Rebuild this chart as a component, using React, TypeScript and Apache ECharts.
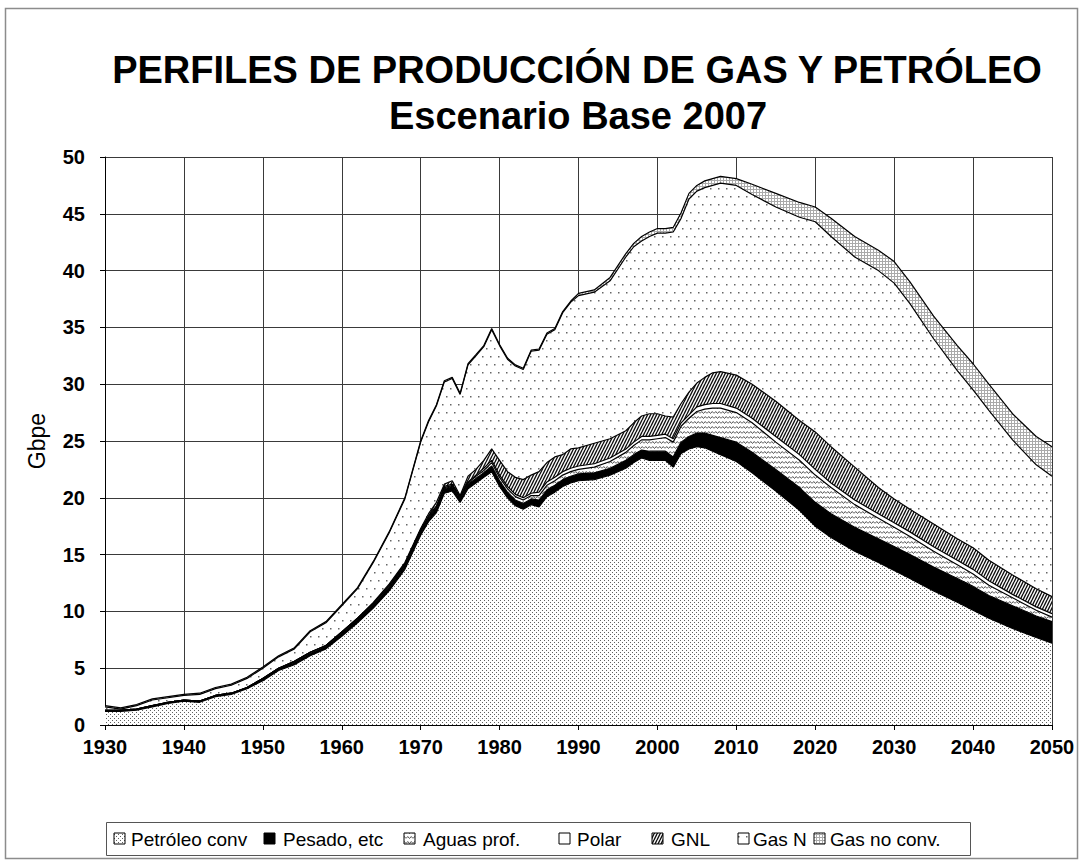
import React, { useEffect, useRef } from 'react';
import * as echarts from 'echarts';

const FONT = '"Liberation Sans", Arial, Helvetica, sans-serif';

const years = [
  1930, 1932, 1934, 1936, 1938, 1940, 1942, 1944, 1946, 1948, 1950, 1952, 1954, 1956, 1958, 1960, 1962, 1964, 1966, 1968,
  1970, 1971, 1972, 1973, 1974, 1975, 1976, 1977, 1978, 1979, 1980, 1981, 1982, 1983, 1984, 1985, 1986, 1987, 1988, 1989, 1990,
  1992, 1994, 1996,
  1997, 1998, 1999, 2000, 2001, 2002, 2003, 2004, 2005, 2006, 2007, 2008,
  2010,
  2012, 2015, 2018, 2020, 2022, 2025, 2028, 2030, 2032, 2035, 2038, 2040, 2042, 2045, 2048, 2050,
];

const petroleoConv = [
  1.2, 1.2, 1.3, 1.6, 1.9, 2.1, 2.0, 2.5, 2.7, 3.2, 3.9, 4.8, 5.3, 6.1, 6.7, 7.8, 9.0, 10.3, 11.8, 13.7,
  16.7, 17.9, 18.7, 20.4, 20.6, 19.6, 20.8, 21.3, 21.8, 22.3, 21.0, 20.0, 19.3, 19.0, 19.4, 19.2, 20.1, 20.5, 21.0, 21.3, 21.5,
  21.6, 22.0, 22.6,
  23.1, 23.5, 23.3, 23.3, 23.3, 22.7, 23.9, 24.3, 24.5, 24.4, 24.1, 23.8,
  23.2,
  22.2, 20.6, 18.9, 17.5, 16.5, 15.3, 14.3, 13.6, 12.9, 11.8, 10.8, 10.1, 9.4, 8.5, 7.7, 7.2,
];

const pesado = [
  0.1, 0.1, 0.1, 0.1, 0.1, 0.1, 0.1, 0.1, 0.1, 0.1, 0.2, 0.2, 0.2, 0.2, 0.2, 0.3, 0.3, 0.3, 0.3, 0.3,
  0.3, 0.3, 0.4, 0.4, 0.4, 0.3, 0.4, 0.4, 0.4, 0.5, 0.5, 0.5, 0.5, 0.5, 0.5, 0.6, 0.6, 0.6, 0.6, 0.6, 0.6,
  0.6, 0.6, 0.7,
  0.7, 0.7, 0.8, 0.8, 0.8, 0.9, 1.0, 1.1, 1.2, 1.3, 1.4, 1.5,
  1.7,
  1.8, 1.9, 2.0, 2.1, 2.1, 2.1, 2.1, 2.1, 2.1, 2.1, 2.1, 2.1, 2.0, 2.0, 1.9, 1.9,
];

const aguasProf = [
  0, 0, 0, 0, 0, 0, 0, 0, 0, 0, 0, 0, 0.1, 0.1, 0.1, 0.1, 0.1, 0.1, 0.1, 0.1,
  0.1, 0.1, 0.1, 0.1, 0.1, 0.1, 0.1, 0.2, 0.2, 0.3, 0.3, 0.3, 0.3, 0.3, 0.3, 0.4, 0.4, 0.4, 0.4, 0.4, 0.4,
  0.5, 0.6, 0.7,
  0.8, 0.9, 1.0, 1.1, 1.2, 1.3, 1.4, 1.6, 1.9, 2.1, 2.4, 2.6,
  2.6,
  2.6, 2.4, 2.4, 2.4, 2.3, 2.0, 1.8, 1.7, 1.6, 1.4, 1.2, 1.1, 0.9, 0.7, 0.5, 0.4,
];

const polar = [
  0, 0, 0, 0, 0, 0, 0, 0, 0, 0, 0, 0, 0, 0, 0, 0, 0, 0, 0.1, 0.1,
  0.1, 0.1, 0.1, 0.1, 0.1, 0.1, 0.1, 0.1, 0.2, 0.2, 0.2, 0.2, 0.2, 0.2, 0.2, 0.3, 0.3, 0.3, 0.3, 0.3, 0.3,
  0.3, 0.3, 0.3,
  0.3, 0.3, 0.3, 0.3, 0.3, 0.3, 0.3, 0.3, 0.4, 0.4, 0.4, 0.4,
  0.4,
  0.4, 0.5, 0.5, 0.5, 0.4, 0.4, 0.4, 0.4, 0.4, 0.4, 0.4, 0.4, 0.4, 0.3, 0.3, 0.3,
];

const gnl = [
  0, 0, 0, 0, 0, 0, 0, 0, 0, 0, 0, 0, 0, 0, 0, 0, 0, 0.1, 0.1, 0.1,
  0.1, 0.2, 0.3, 0.2, 0.3, 0.1, 0.5, 0.5, 0.7, 1.0, 1.3, 1.3, 1.5, 1.6, 1.6, 1.8, 1.7, 1.8, 1.5, 1.7, 1.6,
  1.8, 1.7, 1.6,
  1.7, 1.8, 2.0, 1.9, 1.6, 1.9, 1.7, 2.0, 2.1, 2.4, 2.7, 2.8,
  2.9,
  3.0, 3.1, 3.0, 3.3, 3.2, 2.9, 2.3, 2.1, 2.0, 2.0, 1.9, 1.9, 1.8, 1.7, 1.6, 1.5,
];

const gasN = [
  0.3, 0.1, 0.3, 0.5, 0.4, 0.4, 0.6, 0.6, 0.7, 0.8, 0.9, 1.0, 1.1, 1.8, 2.0, 2.3, 2.6, 3.5, 4.5, 5.6,
  7.6, 8.1, 8.5, 9.0, 9.0, 8.9, 9.8, 10.0, 10.0, 10.5, 10.1, 9.9, 9.8, 9.7, 10.9, 10.7, 11.3, 11.2, 12.5, 12.9, 13.4,
  13.3, 13.9, 15.3,
  15.5, 15.4, 15.6, 15.9, 16.1, 16.3, 16.3, 17.0, 16.9, 16.7, 16.5, 16.6,
  16.7,
  16.7, 17.1, 17.9, 18.5, 18.5, 18.5, 19.1, 19.0, 18.1, 16.3, 14.8, 13.9, 13.2, 11.9, 10.9, 10.6,
];

const gasNoConv = [
  0.1, 0.1, 0.1, 0.1, 0.1, 0.1, 0.1, 0.1, 0.1, 0.1, 0.1, 0.1, 0.1, 0.1, 0.1, 0.1, 0.1, 0.1, 0.1, 0.1,
  0.1, 0.1, 0.1, 0.1, 0.1, 0.1, 0.1, 0.1, 0.1, 0.1, 0.1, 0.1, 0.1, 0.1, 0.1, 0.1, 0.1, 0.1, 0.1, 0.1, 0.2,
  0.2, 0.3, 0.3,
  0.3, 0.4, 0.4, 0.4, 0.4, 0.4, 0.5, 0.5, 0.5, 0.6, 0.6, 0.6,
  0.6,
  0.9, 1.2, 1.3, 1.3, 1.6, 1.8, 1.8, 1.9, 1.9, 2.0, 2.2, 2.3, 2.3, 2.3, 2.5, 2.6,
];

const seriesNames = ['Petróleo conv', 'Pesado, etc', 'Aguas prof.', 'Polar', 'GNL', 'Gas N', 'Gas no conv.'];
const xTicks = { min: 1930, max: 2050, interval: 10 };
const yTicks = { min: 0, max: 50, interval: 5 };

const yearTime = (y: number) => new Date(y, 0, 1).getTime();

function tile(w: number, h: number, draw: (ctx: CanvasRenderingContext2D) => void) {
  const c = document.createElement('canvas');
  c.width = w;
  c.height = h;
  const ctx = c.getContext('2d') as CanvasRenderingContext2D;
  ctx.fillStyle = '#ffffff';
  ctx.fillRect(0, 0, w, h);
  draw(ctx);
  return { image: c.toDataURL(), repeat: 'repeat', imageWidth: w, imageHeight: h } as any;
}

function makePatterns() {
  const petro = tile(4, 4, (ctx) => {
    ctx.fillStyle = '#606060';
    ctx.fillRect(0, 0, 1, 1);
    ctx.fillRect(2, 2, 1, 1);
  });
  const black = '#000000';
  const wavy = tile(7, 5, (ctx) => {
    ctx.strokeStyle = '#555';
    ctx.lineWidth = 1;
    ctx.beginPath();
    ctx.moveTo(0, 3.5);
    ctx.lineTo(1.75, 1.5);
    ctx.lineTo(3.5, 3.5);
    ctx.lineTo(5.25, 1.5);
    ctx.lineTo(7, 3.5);
    ctx.stroke();
  });
  const white = '#ffffff';
  const stripes = tile(3, 6, (ctx) => {
    ctx.strokeStyle = '#111';
    ctx.lineWidth = 1.4;
    ctx.beginPath();
    for (const dx of [-3, 0, 3]) {
      ctx.moveTo(dx, 6);
      ctx.lineTo(dx + 3, 0);
    }
    ctx.stroke();
  });
  const sparse = tile(8, 16, (ctx) => {
    ctx.fillStyle = '#666';
    ctx.fillRect(2, 4, 1.5, 1.5);
    ctx.fillRect(6, 12, 1.5, 1.5);
  });
  const cross = tile(3, 3, (ctx) => {
    ctx.fillStyle = '#aaa';
    ctx.fillRect(0, 0, 3, 1);
    ctx.fillRect(0, 0, 1, 3);
  });
  return [petro, black, wavy, white, stripes, sparse, cross];
}

export default function App() {
  const ref = useRef<HTMLDivElement>(null);

  useEffect(() => {
    document.body.style.margin = '0';
    if (!ref.current) return;
    const chart = echarts.init(ref.current, undefined, { renderer: 'svg' });
    const fills = makePatterns();
    const values = [petroleoConv, pesado, aguasProf, polar, gnl, gasN, gasNoConv];

    const series = seriesNames.map((name, k) => ({
      name,
      type: 'line',
      xAxisIndex: 0,
      stack: 'total',
      symbol: 'none',
      showSymbol: false,
      silent: true,
      data: years.map((y, i) => [yearTime(y), values[k][i]]),
      lineStyle: { color: '#000', width: 1.2 },
      itemStyle: { color: '#000' },
      areaStyle: { color: fills[k], opacity: 1 },
      emphasis: { disabled: true },
      z: 2,
    }));

    const legendX = [
      { icon: 114, text: 131 },
      { icon: 264, text: 283 },
      { icon: 404, text: 423 },
      { icon: 559, text: 577 },
      { icon: 652, text: 671 },
      { icon: 738, text: 753 },
      { icon: 814, text: 830 },
    ];
    const legendY = 839;
    const legendGraphics: any[] = [];
    seriesNames.forEach((name, k) => {
      legendGraphics.push({
        type: 'rect',
        shape: { x: legendX[k].icon, y: legendY - 6, width: 11, height: 11 },
        style: { fill: fills[k], stroke: '#000', lineWidth: 1 },
        silent: true,
      });
      legendGraphics.push({
        type: 'text',
        x: legendX[k].text,
        y: legendY,
        style: {
          text: name,
          fontFamily: FONT,
          fontSize: 19,
          fill: '#000',
          textAlign: 'left',
          align: 'left',
          textVerticalAlign: 'middle',
          verticalAlign: 'middle',
        },
        silent: true,
      });
    });

    chart.setOption({
      animation: false,
      backgroundColor: '#ffffff',
      grid: { left: 105, right: 30, top: 157, bottom: 138, containLabel: false },
      xAxis: [
        {
          type: 'time',
          min: yearTime(xTicks.min),
          max: yearTime(xTicks.max),
          show: false,
          splitLine: { show: false },
        },
        {
          type: 'value',
          position: 'bottom',
          min: xTicks.min,
          max: xTicks.max,
          interval: xTicks.interval,
          axisLine: { show: true, onZero: false, lineStyle: { color: '#000', width: 1 } },
          axisTick: { show: true, length: 5, lineStyle: { color: '#000' } },
          axisLabel: {
            formatter: (v: number) => String(v),
            fontFamily: FONT,
            fontWeight: 'bold',
            fontSize: 20,
            color: '#000',
            margin: 12,
          },
          splitLine: { show: true, lineStyle: { color: '#3a3a3a', width: 1 } },
        },
      ],
      yAxis: {
        type: 'value',
        min: yTicks.min,
        max: yTicks.max,
        interval: yTicks.interval,
        axisLine: { show: true, lineStyle: { color: '#000', width: 1 } },
        axisTick: { show: true, length: 5, lineStyle: { color: '#000' } },
        axisLabel: {
          fontFamily: FONT,
          fontWeight: 'bold',
          fontSize: 20,
          color: '#000',
          margin: 20,
        },
        splitLine: { show: true, lineStyle: { color: '#3a3a3a', width: 1 } },
      },
      series,
      graphic: [
        {
          type: 'rect',
          shape: { x: 5.5, y: 8.5, width: 1072, height: 850 },
          style: { fill: 'none', stroke: '#8c8c8c', lineWidth: 1.5 },
          silent: true,
          z: -10,
        },
        {
          type: 'text',
          x: 577,
          y: 70,
          style: {
            text: 'PERFILES DE PRODUCCIÓN DE GAS Y PETRÓLEO',
            fontFamily: FONT,
            fontWeight: 'bold',
            fontSize: 38,
            fill: '#000',
            textAlign: 'center',
            align: 'center',
            textVerticalAlign: 'middle',
            verticalAlign: 'middle',
          },
          silent: true,
        },
        {
          type: 'text',
          x: 578,
          y: 116,
          style: {
            text: 'Escenario Base 2007',
            fontFamily: FONT,
            fontWeight: 'bold',
            fontSize: 38,
            fill: '#000',
            textAlign: 'center',
            align: 'center',
            textVerticalAlign: 'middle',
            verticalAlign: 'middle',
          },
          silent: true,
        },
        {
          type: 'text',
          x: 37,
          y: 441,
          rotation: Math.PI / 2,
          style: {
            text: 'Gbpe',
            fontFamily: FONT,
            fontSize: 23,
            fill: '#000',
            textAlign: 'center',
            align: 'center',
            textVerticalAlign: 'middle',
            verticalAlign: 'middle',
          },
          silent: true,
        },
        {
          type: 'rect',
          shape: { x: 106.5, y: 822.5, width: 864, height: 33 },
          style: { fill: '#fff', stroke: '#555', lineWidth: 1 },
          silent: true,
        },
        ...legendGraphics,
      ],
    });

    return () => {
      chart.dispose();
    };
  }, []);

  return <div ref={ref} style={{ width: 1082, height: 863 }} />;
}
